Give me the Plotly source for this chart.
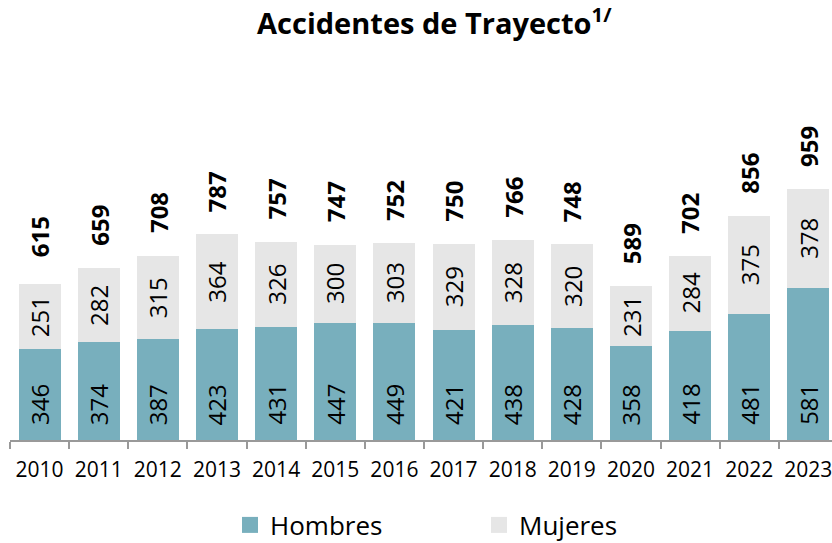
import plotly.graph_objects as go

# Accidentes de trayecto por año, desagregados por sexo
years = ["2010", "2011", "2012", "2013", "2014", "2015", "2016",
         "2017", "2018", "2019", "2020", "2021", "2022", "2023"]
hombres = [346, 374, 387, 423, 431, 447, 449, 421, 438, 428, 358, 418, 481, 581]
mujeres = [251, 282, 315, 364, 326, 300, 303, 329, 328, 320, 231, 284, 375, 378]
totales = [615, 659, 708, 787, 757, 747, 752, 750, 766, 748, 589, 702, 856, 959]

FONT = "Open Sans"
TEAL = "#78AFBD"
GRAY = "#E6E6E6"
LABEL_SIZE = 24

fig = go.Figure()
fig.add_trace(go.Bar(
    x=years, y=hombres, name="Hombres", marker=dict(color=TEAL, line=dict(width=0)),
    showlegend=False, hoverinfo="x+y",
))
fig.add_trace(go.Bar(
    x=years, y=mujeres, name="Mujeres", marker=dict(color=GRAY, line=dict(width=0)),
    showlegend=False, hoverinfo="x+y",
))
# Entradas de leyenda con cuadros más grandes
for name, color in (("Hombres", TEAL), ("Mujeres", GRAY)):
    fig.add_trace(go.Scatter(
        x=[None], y=[None], mode="markers", name=name,
        marker=dict(symbol="square", size=17, color=color),
    ))

annotations = []
for i, (h, m, t) in enumerate(zip(hombres, mujeres, totales)):
    # Hombres: cerca de la base de la barra
    annotations.append(dict(
        x=i, y=0, xref="x", yref="y", text=str(h), showarrow=False,
        textangle=-90, yanchor="bottom", xanchor="center", yshift=13,
        font=dict(family=FONT, size=LABEL_SIZE, color="black"),
    ))
    # Mujeres: centrado en su segmento
    annotations.append(dict(
        x=i, y=h + m / 2, xref="x", yref="y", text=str(m), showarrow=False,
        textangle=-90, yanchor="middle", xanchor="center",
        font=dict(family=FONT, size=LABEL_SIZE, color="black"),
    ))
    # Total en negrita sobre la columna
    annotations.append(dict(
        x=i, y=t, xref="x", yref="y", text=f"<b>{t}</b>", showarrow=False,
        textangle=-90, yanchor="bottom", xanchor="center", yshift=20,
        font=dict(family=FONT, size=LABEL_SIZE, color="black"),
    ))

fig.update_layout(
    width=832, height=543,
    barmode="stack", bargap=0.29,
    plot_bgcolor="white", paper_bgcolor="white",
    margin=dict(l=10, r=0, t=126, b=103),
    title=dict(
        text="<b>Accidentes de Trayecto<sup>1/</sup></b>",
        x=0.522, xref="container", xanchor="center",
        y=1 - 24 / 543, yref="container", yanchor="middle",
        font=dict(family=FONT, size=29, color="black"),
    ),
    font=dict(family=FONT, color="black"),
    showlegend=True,
    legend=dict(
        orientation="h", x=230 / 832, xanchor="left", xref="container",
        y=18 / 543, yref="container", yanchor="middle",
        font=dict(family=FONT, size=26, color="black"),
        entrywidth=204, entrywidthmode="pixels",
        itemwidth=30, traceorder="normal",
    ),
    annotations=annotations,
    xaxis=dict(
        type="category", range=[-0.5, 13.4],
        showline=True, linecolor="#999999", linewidth=1.5,
        ticks="outside", tickson="boundaries", ticklen=7, tickcolor="#999999",
        tickwidth=1.5, showgrid=False, ticklabelstandoff=10,
        tickfont=dict(family=FONT, size=21, color="black"),
    ),
    yaxis=dict(
        range=[0, 1200], visible=False, showgrid=False, zeroline=False,
    ),
)

fig.write_html("out.html")
